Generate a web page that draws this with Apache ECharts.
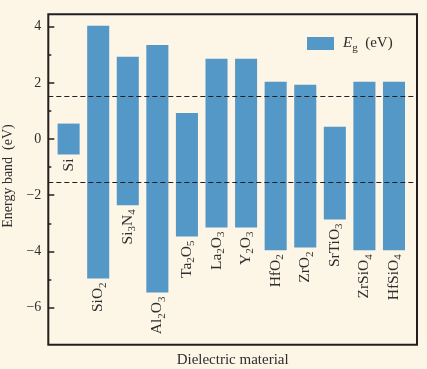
<!DOCTYPE html>
<html>
<head>
<meta charset="utf-8">
<script src="https://cdn.jsdelivr.net/npm/echarts@6/dist/echarts.min.js"></script>
<style>
html,body{margin:0;padding:0;background:#fdf5e6;}
#chart{width:427px;height:369px;}
</style>
</head>
<body>
<div id="chart"></div>
<script>
// ---- data ----
const categories = ['Si','SiO2','Si3N4','Al2O3','Ta2O5','La2O3','Y2O3','HfO2','ZrO2','SrTiO3','ZrSiO4','HfSiO4'];
const bandTop    = [0.55, 4.03, 2.93, 3.35, 0.93, 2.86, 2.86, 2.04, 1.93, 0.44, 2.04, 2.04];
const bandBottom = [-0.55, -4.96, -2.36, -5.46, -3.47, -3.15, -3.15, -3.96, -3.86, -2.86, -3.96, -3.96];
const dashedLevels = [1.52, -1.55];
const majorTicks = [-6, -4, -2, 0, 2, 4];
const minorTicks = [-5, -3, -1, 1, 3];
const seriesName = 'Eg (eV)';

const FONT = 'Liberation Serif';
const LINE = '#231f20';
const TEXT = '#2e2e2e';
const BAR = '#5398c6';

function richName(s) {
  return s.replace(/(\d+)|([^\d]+)/g, (m, d, t) => d ? '{s|' + d + '}' : '{m|' + t + '}');
}
const labelRich = {
  m: {fontSize: 15.5, fontFamily: FONT, color: TEXT, lineHeight: 20, verticalAlign: 'middle'},
  s: {fontSize: 11, fontFamily: FONT, color: TEXT, lineHeight: 10, verticalAlign: 'bottom'}
};

const data = categories.map((c, i) => [i + 1, bandBottom[i], bandTop[i]]);

const chart = echarts.init(document.getElementById('chart'));
chart.setOption({
  backgroundColor: '#fdf5e6',
  animation: false,
  textStyle: {fontFamily: FONT, color: TEXT},
  grid: {left: 48.3, right: 10, top: 14.3, bottom: 24.3, show: true, borderColor: LINE, borderWidth: 2,
    backgroundColor: 'transparent', containLabel: false, outerBoundsMode: 'none'},
  legend: {
    left: 307, top: 36, padding: 0, itemWidth: 27, itemHeight: 13, icon: 'rect',
    data: [seriesName],
    formatter: () => '{i|E}{s|g}{n|  (eV)}',
    textStyle: {
      padding: [0, 0, 0, 4],
      rich: {
        i: {fontSize: 15, fontStyle: 'italic', fontFamily: FONT, color: TEXT, lineHeight: 20, verticalAlign: 'middle'},
        s: {fontSize: 11, fontFamily: FONT, color: TEXT, lineHeight: 10, verticalAlign: 'bottom'},
        n: {fontSize: 15, fontFamily: FONT, color: TEXT, lineHeight: 20, verticalAlign: 'middle'}
      }
    }
  },
  xAxis: {
    type: 'value', min: 0.313, max: 12.778,
    name: 'Dielectric material', nameLocation: 'middle', nameGap: 8,
    nameTextStyle: {fontSize: 15, fontFamily: FONT, color: TEXT},
    axisLine: {show: false}, axisTick: {show: false}, axisLabel: {show: false}, splitLine: {show: false}
  },
  yAxis: [{
    type: 'value', min: -7.32, max: 4.44, position: 'left',
    name: 'Energy band  (eV)', nameLocation: 'middle', nameGap: 27,
    nameTextStyle: {fontSize: 14, fontFamily: FONT, color: TEXT, padding: [0, 0, 0, 7]},
    axisLine: {show: false},
    axisTick: {show: true, inside: true, length: 6, lineStyle: {color: LINE, width: 1.5}, customValues: majorTicks},
    axisLabel: {fontSize: 14, fontFamily: FONT, color: TEXT, margin: 7, customValues: majorTicks,
      formatter: v => (v < 0 ? '\u2212' + Math.abs(v) : String(v))},
    splitLine: {show: false}
  }, {
    type: 'value', min: -7.32, max: 4.44, position: 'left', offset: 0,
    axisLine: {show: false},
    axisTick: {show: true, inside: true, length: 3, lineStyle: {color: LINE, width: 1.5}, customValues: minorTicks},
    axisLabel: {show: false},
    splitLine: {show: false}
  }],
  series: [{
    type: 'custom',
    name: seriesName,
    itemStyle: {color: BAR},
    data: data,
    encode: {x: 0, y: [1, 2]},
    renderItem: function (params, api) {
      const x = api.value(0), lo = api.value(1), hi = api.value(2);
      const pTop = api.coord([x, hi]);
      const pBot = api.coord([x, lo]);
      const w = api.size([0.745, 0])[0];
      return {
        type: 'group',
        children: [{
          type: 'rect',
          shape: {x: pTop[0] - w / 2, y: pTop[1], width: w, height: pBot[1] - pTop[1]},
          style: {fill: BAR}
        }, {
          type: 'text',
          x: pBot[0], y: pBot[1] + 4,
          rotation: Math.PI / 2,
          style: {
            text: richName(categories[params.dataIndex]),
            rich: labelRich,
            align: 'right', verticalAlign: 'middle',
            fontFamily: FONT, fill: TEXT
          }
        }]
      };
    },
    markLine: {
      silent: true, symbol: 'none',
      label: {show: false},
      lineStyle: {color: LINE, type: [5, 3], width: 1.2},
      data: dashedLevels.map(v => ({yAxis: v}))
    }
  }]
});
</script>
</body>
</html>
